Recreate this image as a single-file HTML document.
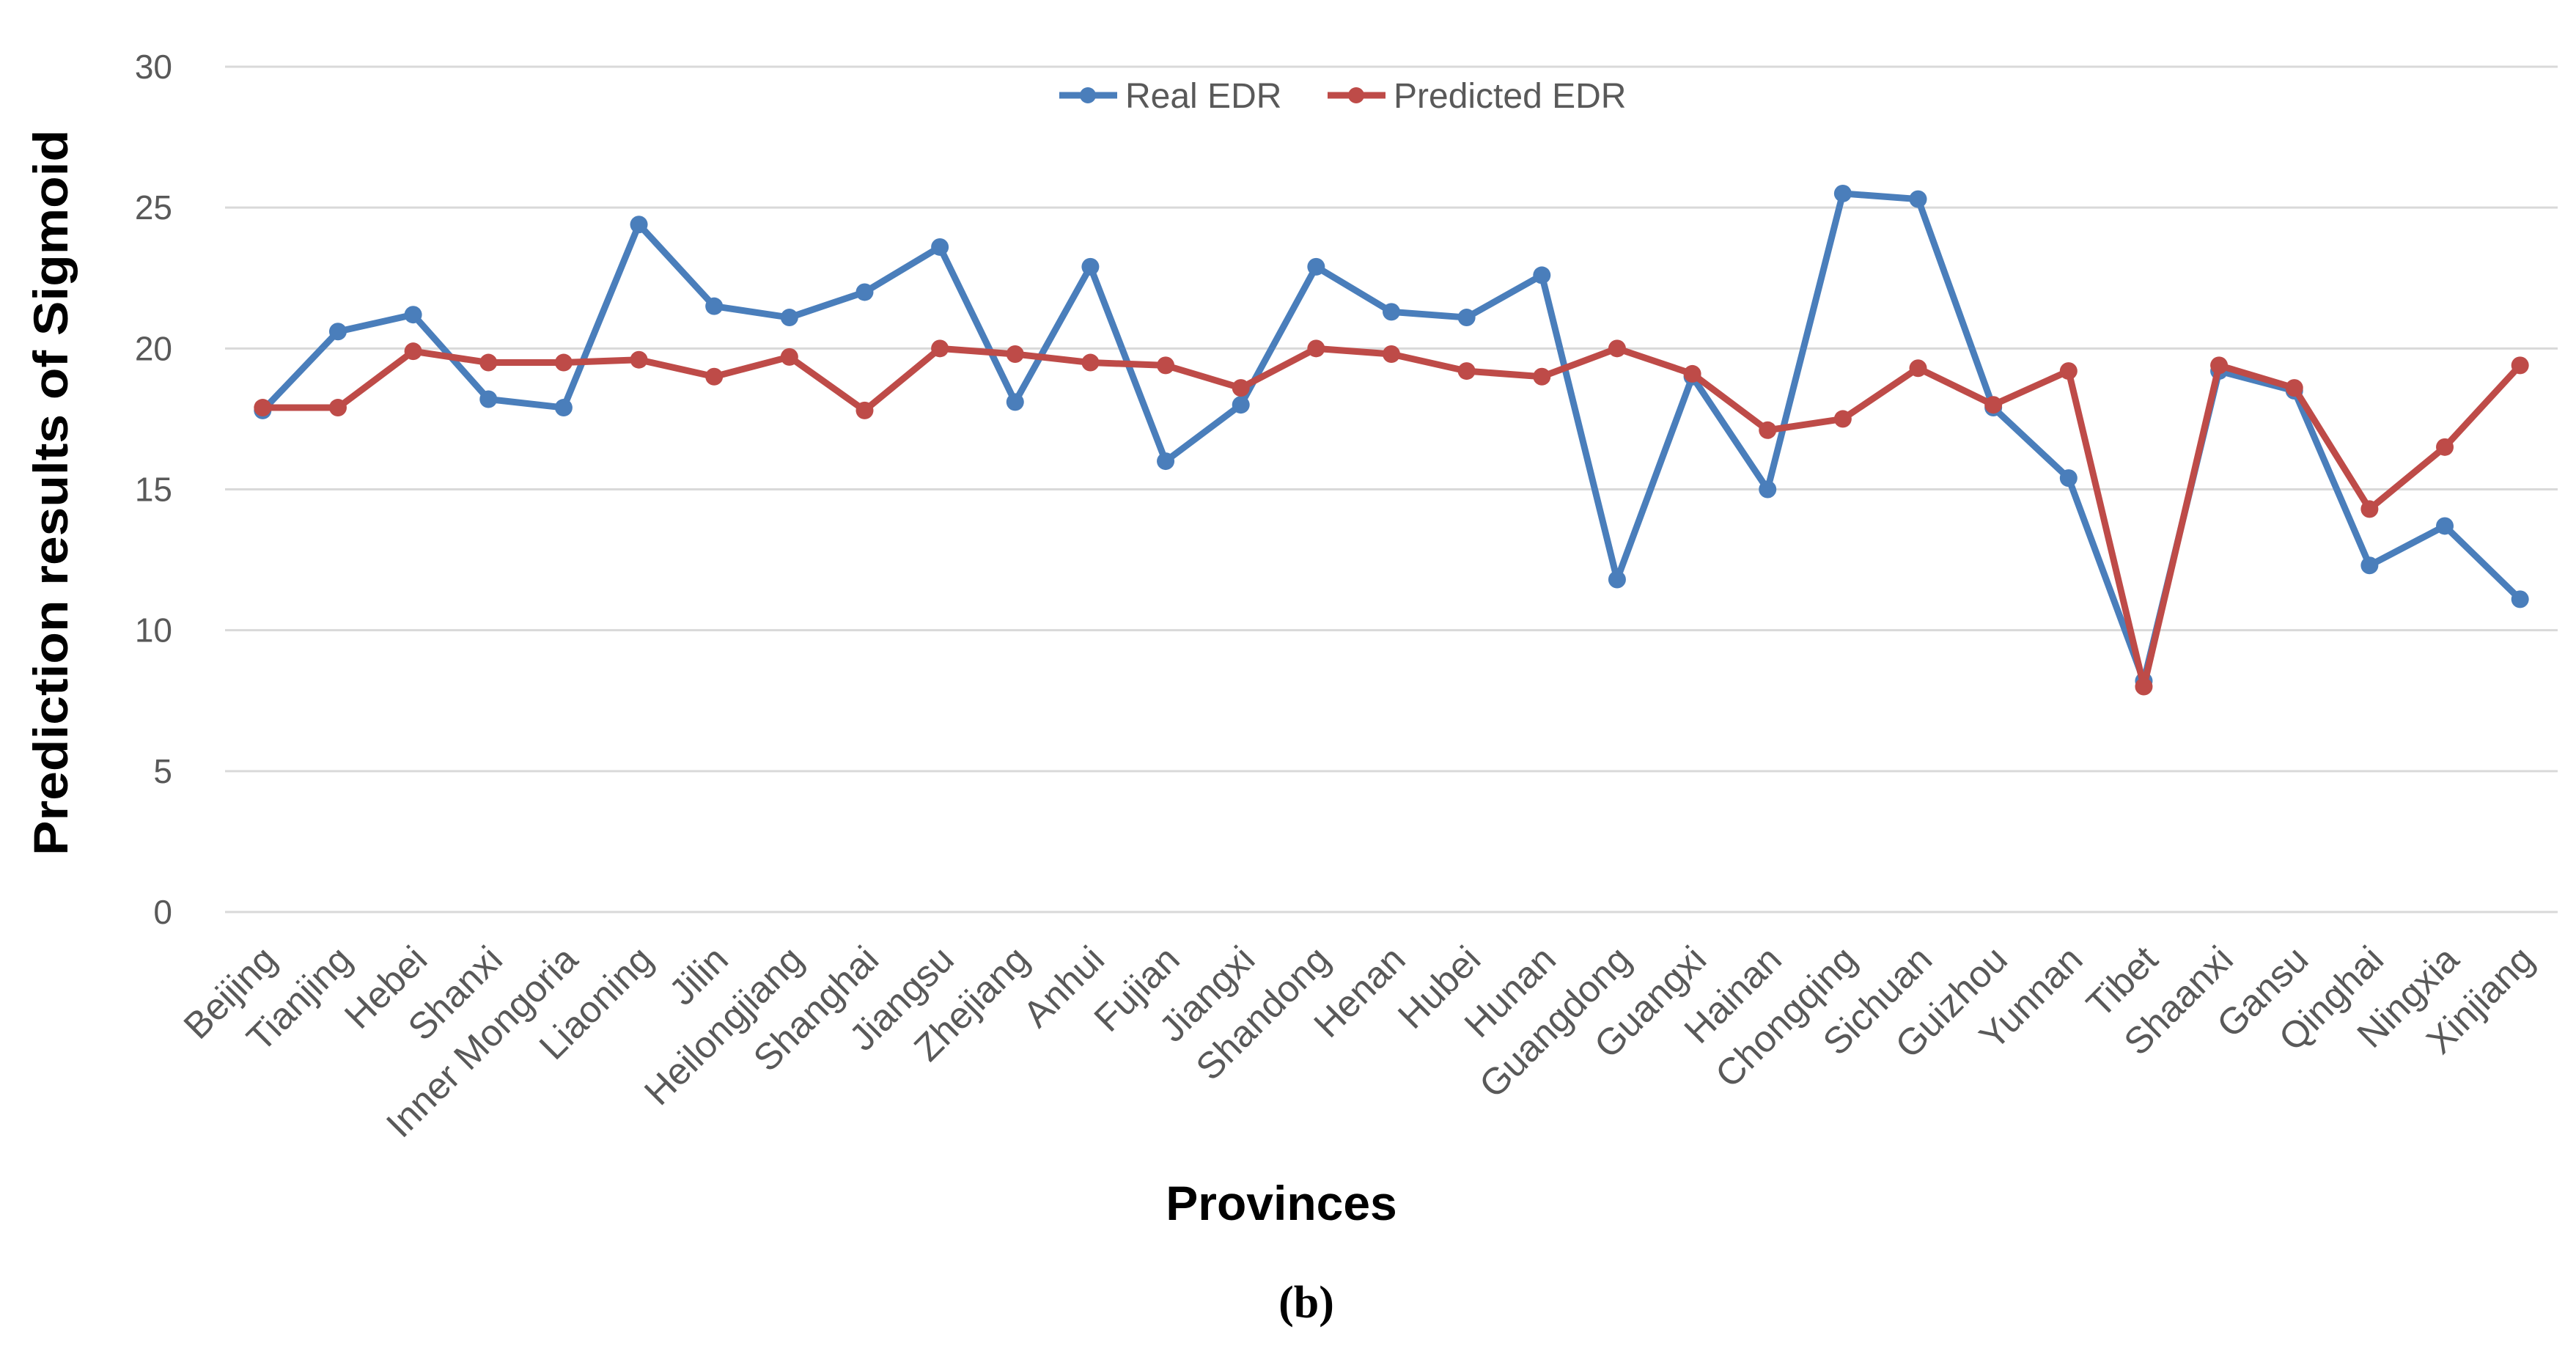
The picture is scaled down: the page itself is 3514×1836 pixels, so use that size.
<!DOCTYPE html>
<html><head><meta charset="utf-8"><style>
html,body{margin:0;padding:0;background:#fff;}
svg{display:block;}
</style></head><body>
<svg id="chart" width="3514" height="1836" viewBox="0 0 3514 1836" xmlns="http://www.w3.org/2000/svg" font-family="'Liberation Sans', sans-serif">
<g id="grid"></g>
<g id="yticks"></g>
<g id="xticks"></g>
<g id="series"></g>
<text transform="translate(92,672) rotate(-90)" text-anchor="middle" font-size="66" font-weight="bold" fill="#000" textLength="990" lengthAdjust="spacingAndGlyphs">Prediction results of Sigmoid</text>
<text x="1748" y="1664" text-anchor="middle" font-size="66" font-weight="bold" fill="#000">Provinces</text>
<text x="1782" y="1797" text-anchor="middle" font-size="62" font-weight="bold" font-family="'Liberation Serif', serif" fill="#000">(b)</text>
<g>
  <g>
    <line x1="1445" y1="130" x2="1524" y2="130" stroke="#4a7ebb" stroke-width="9"/>
    <circle cx="1484" cy="130" r="11" fill="#4a7ebb"/>
    <text x="1535" y="147" font-size="48" fill="#595959">Real EDR</text>
  </g>
  <g>
    <line x1="1811" y1="130" x2="1890" y2="130" stroke="#be4b48" stroke-width="9"/>
    <circle cx="1850" cy="130" r="11" fill="#be4b48"/>
    <text x="1901" y="147" font-size="48" fill="#595959">Predicted EDR</text>
  </g>
</g>
</svg>
<script>
const categories = ["Beijing","Tianjing","Hebei","Shanxi","Inner Mongoria","Liaoning","Jilin","Heilongjiang","Shanghai","Jiangsu","Zhejiang","Anhui","Fujian","Jiangxi","Shandong","Henan","Hubei","Hunan","Guangdong","Guangxi","Hainan","Chongqing","Sichuan","Guizhou","Yunnan","Tibet","Shaanxi","Gansu","Qinghai","Ningxia","Xinjiang"];
const realEDR = [17.8,20.6,21.2,18.2,17.9,24.4,21.5,21.1,22.0,23.6,18.1,22.9,16.0,18.0,22.9,21.3,21.1,22.6,11.8,19.0,15.0,25.5,25.3,17.9,15.4,8.2,19.2,18.5,12.3,13.7,11.1];
const predictedEDR = [17.9,17.9,19.9,19.5,19.5,19.6,19.0,19.7,17.8,20.0,19.8,19.5,19.4,18.6,20.0,19.8,19.2,19.0,20.0,19.1,17.1,17.5,19.3,18.0,19.2,8.0,19.4,18.6,14.3,16.5,19.4];
const yTicks = [0,5,10,15,20,25,30];

const NS = "http://www.w3.org/2000/svg";
const L = 307, R = 3489, Y0 = 1244, Y30 = 91;
function yScale(v){ return Y0 - (v/30)*(Y0-Y30); }
function xScale(i){ return L + (R-L)/categories.length*(i+0.5); }
function mk(tag, attrs, parent){ const e=document.createElementNS(NS,tag); for(const k in attrs) e.setAttribute(k,attrs[k]); parent.appendChild(e); return e; }

const grid=document.getElementById('grid'), yt=document.getElementById('yticks'), xt=document.getElementById('xticks'), ser=document.getElementById('series');
yTicks.forEach(t=>{
  const ln=mk('line',{x1:L,x2:R,y1:yScale(t),y2:yScale(t),stroke:'#d9d9d9','stroke-width':3},grid);
  
  
  const tx=mk('text',{x:235,y:yScale(t)+16,'text-anchor':'end','font-size':46,fill:'#595959'},yt);
  tx.textContent=t;
  
  
});
categories.forEach((c,i)=>{
  const x=xScale(i)+22, y=1312;
  const tx=mk('text',{x:x,y:y,'text-anchor':'end','font-size':51,fill:'#595959',transform:`rotate(-45 ${x} ${y})`},xt);
  tx.textContent=c;
  
  
});
function drawSeries(vals,color,name){
  const g=mk('g',{},ser);
  
  
  const pts=vals.map((v,i)=>xScale(i)+','+yScale(v)).join(' ');
  const pl=mk('polyline',{points:pts,fill:'none',stroke:color,'stroke-width':9,'stroke-linejoin':'round'},g);
  
  
  vals.forEach((v,i)=>{
    const c=mk('circle',{cx:xScale(i),cy:yScale(v),r:12,fill:color},g);
    
    
  });
}
drawSeries(realEDR,'#4a7ebb','real-edr');
drawSeries(predictedEDR,'#be4b48','predicted-edr');
</script>
</body></html>
